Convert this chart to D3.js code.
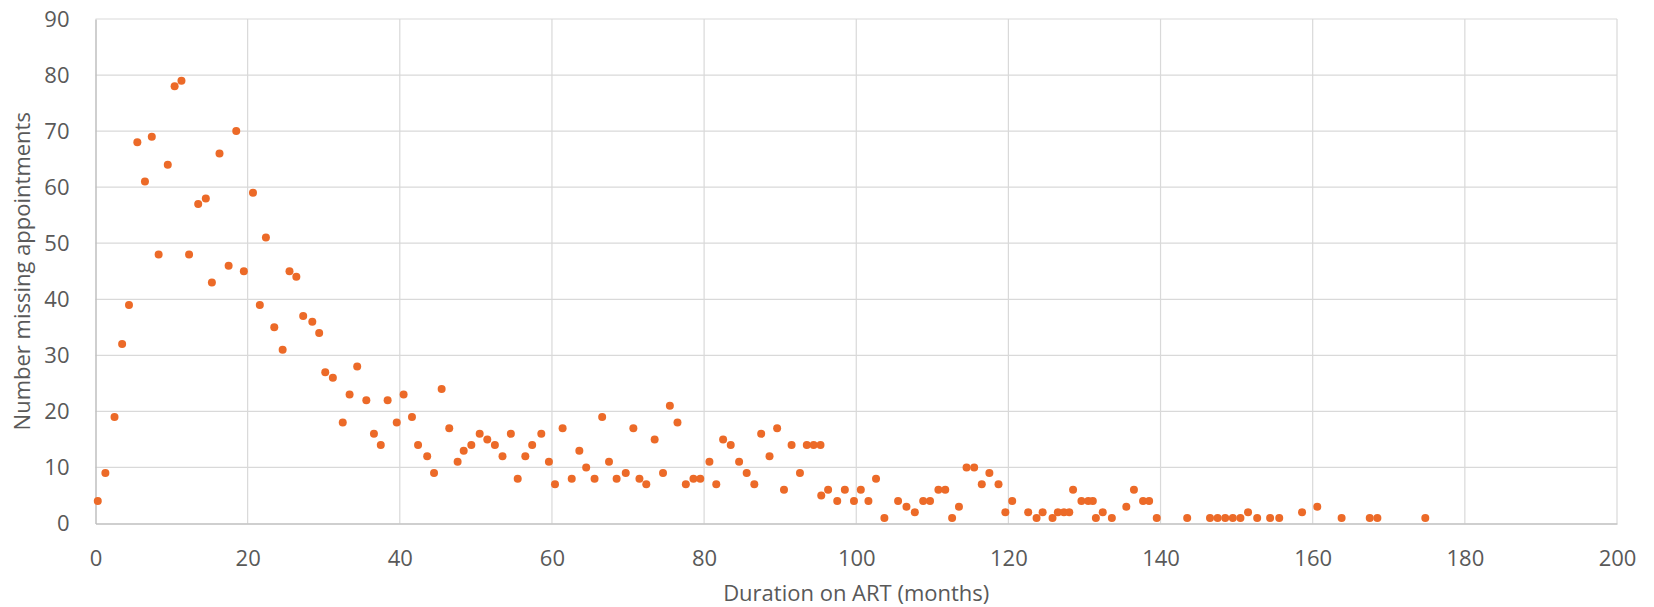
<!DOCTYPE html>
<html>
<head>
<meta charset="utf-8">
<script src="https://cdn.jsdelivr.net/npm/d3@7"></script>
<style>
  html, body { margin: 0; padding: 0; background: #ffffff; }
  svg { display: block; }
  text { font-family: "Open Sans", "Liberation Sans", sans-serif; fill: #595959; }
</style>
</head>
<body>
<svg id="chart" width="1654" height="607"></svg>
<script>
// Duration on ART (months)
const durationMonths = [
  0.3, 1.3, 2.5, 3.5, 4.4, 5.5, 6.5, 7.4, 8.3, 9.5,
  10.4, 11.3, 12.3, 13.5, 14.5, 15.3, 16.3, 17.5, 18.5, 19.5,
  20.7, 21.6, 22.4, 23.5, 24.6, 25.5, 26.4, 27.3, 28.5, 29.4,
  30.2, 31.2, 32.5, 33.4, 34.4, 35.6, 36.6, 37.5, 38.4, 39.6,
  40.5, 41.6, 42.4, 43.6, 44.5, 45.5, 46.5, 47.6, 48.4, 49.4,
  50.5, 51.5, 52.5, 53.5, 54.6, 55.5, 56.5, 57.4, 58.6, 59.6,
  60.4, 61.4, 62.6, 63.6, 64.5, 65.6, 66.6, 67.5, 68.5, 69.7,
  70.7, 71.5, 72.4, 73.5, 74.6, 75.5, 76.5, 77.6, 78.6, 79.5,
  80.7, 81.6, 82.5, 83.5, 84.6, 85.6, 86.6, 87.5, 88.6, 89.6,
  90.5, 91.5, 92.6, 93.5, 94.4, 95.3, 95.4, 96.3, 97.5, 98.5,
  99.7, 100.6, 101.6, 102.6, 103.7, 105.5, 106.6, 107.7, 108.8, 109.7,
  110.8, 111.7, 112.6, 113.5, 114.5, 115.5, 116.5, 117.5, 118.7, 119.6,
  120.5, 122.6, 123.7, 124.5, 125.8, 126.5, 127.3, 128.0, 128.5, 129.6,
  130.5, 131.1, 131.5, 132.4, 133.6, 135.5, 136.5, 137.7, 138.5, 139.5,
  143.5, 146.5, 147.5, 148.5, 149.5, 150.5, 151.5, 152.7, 154.4, 155.6,
  158.6, 160.6, 163.8, 167.5, 168.5, 174.8
];
// Number missing appointments
const missedCounts = [
  4, 9, 19, 32, 39, 68, 61, 69, 48, 64,
  78, 79, 48, 57, 58, 43, 66, 46, 70, 45,
  59, 39, 51, 35, 31, 45, 44, 37, 36, 34,
  27, 26, 18, 23, 28, 22, 16, 14, 22, 18,
  23, 19, 14, 12, 9, 24, 17, 11, 13, 14,
  16, 15, 14, 12, 16, 8, 12, 14, 16, 11,
  7, 17, 8, 13, 10, 8, 19, 11, 8, 9,
  17, 8, 7, 15, 9, 21, 18, 7, 8, 8,
  11, 7, 15, 14, 11, 9, 7, 16, 12, 17,
  6, 14, 9, 14, 14, 14, 5, 6, 4, 6,
  4, 6, 4, 8, 1, 4, 3, 2, 4, 4,
  6, 6, 1, 3, 10, 10, 7, 9, 7, 2,
  4, 2, 1, 2, 1, 2, 2, 2, 6, 4,
  4, 4, 1, 2, 1, 3, 6, 4, 4, 1,
  1, 1, 1, 1, 1, 1, 2, 1, 1, 1,
  2, 3, 1, 1, 1, 1
];
const xTicks = [0, 20, 40, 60, 80, 100, 120, 140, 160, 180, 200];
const yTicks = [0, 10, 20, 30, 40, 50, 60, 70, 80, 90];
const xTitle = "Duration on ART (months)";
const yTitle = "Number missing appointments";

const points = durationMonths.map((d, i) => ({ x: d, y: missedCounts[i] }));

const W = 1654, H = 607;
const margin = { left: 95.5, right: W - 1617, top: 19, bottom: H - 523.5 };
const svg = d3.select("#chart");

const x = d3.scaleLinear().domain([0, 200]).range([margin.left, W - margin.right]);
const y = d3.scaleLinear().domain([0, 90]).range([H - margin.bottom, margin.top]);

// Gridlines
svg.append("g")
  .selectAll("line.h")
  .data(yTicks.filter(t => t > 0))
  .join("line")
  .attr("x1", x(0)).attr("x2", x(200))
  .attr("y1", d => y(d)).attr("y2", d => y(d))
  .attr("stroke", "#d9d9d9").attr("stroke-width", 1.2);

svg.append("g")
  .selectAll("line.v")
  .data(xTicks.filter(t => t > 0))
  .join("line")
  .attr("x1", d => x(d)).attr("x2", d => x(d))
  .attr("y1", y(0)).attr("y2", y(90))
  .attr("stroke", "#d9d9d9").attr("stroke-width", 1.2);

// Axes
const xAxis = d3.axisBottom(x).tickValues(xTicks).tickSize(0).tickPadding(27);
const gx = svg.append("g").attr("transform", `translate(0,${y(0)})`).call(xAxis);
gx.select(".domain").attr("stroke", "#bfbfbf").attr("stroke-width", 1.5);
gx.selectAll("text").style("font-size", "22px").attr("fill", "#595959")
  .style("font-family", '"Open Sans", sans-serif');

const yAxis = d3.axisLeft(y).tickValues(yTicks).tickSize(0).tickPadding(26);
const gy = svg.append("g").attr("transform", `translate(${x(0)},0)`).call(yAxis);
gy.select(".domain").attr("stroke", "#bfbfbf").attr("stroke-width", 1.5);
gy.selectAll("text").style("font-size", "22px").attr("fill", "#595959")
  .style("font-family", '"Open Sans", sans-serif');

// Points
svg.append("g")
  .selectAll("circle")
  .data(points)
  .join("circle")
  .attr("cx", d => x(d.x))
  .attr("cy", d => y(d.y))
  .attr("r", 4)
  .attr("fill", "#ec6a28");

// Axis titles
svg.append("text")
  .attr("x", (x(0) + x(200)) / 2)
  .attr("y", 601)
  .attr("text-anchor", "middle")
  .style("font-size", "22px")
  .text(xTitle);

svg.append("text")
  .attr("transform", `translate(30,${(y(0) + y(90)) / 2}) rotate(-90)`)
  .attr("text-anchor", "middle")
  .style("font-size", "22px")
  .text(yTitle);
</script>
</body>
</html>
